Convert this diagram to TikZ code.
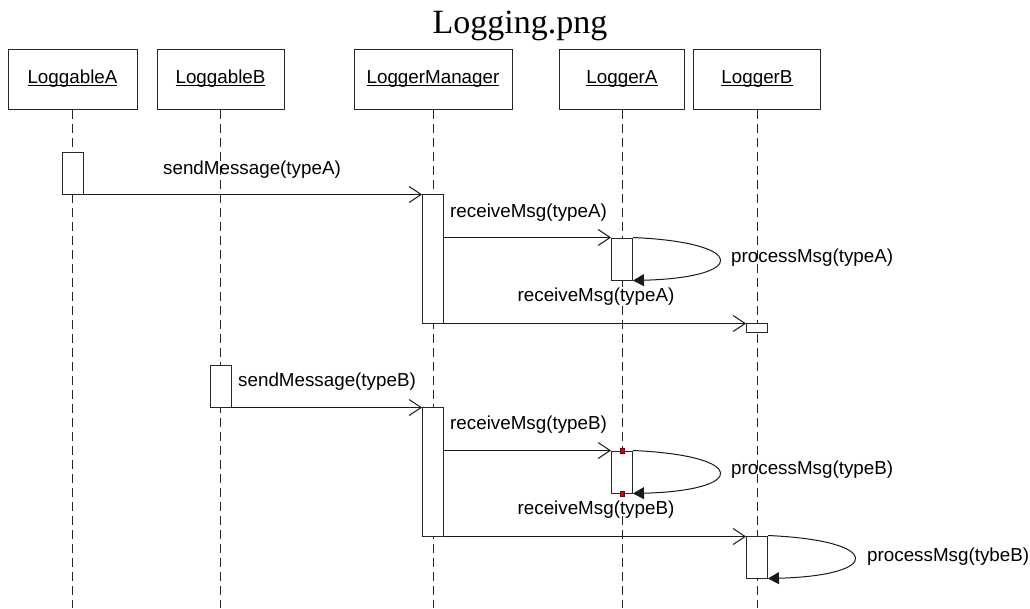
\documentclass[tikz,border=0pt]{standalone}
\usepackage{fontspec}
\setmainfont{Liberation Sans}
\newfontfamily\titlefont{Liberation Serif}
\usetikzlibrary{arrows.meta}
\newcommand*{\UmlName}[1]{% #1 = object name, underlined
\setbox0\hbox{#1}\rlap{\rule[-2.2pt]{\wd0}{1pt}}\box0%
}
\newcommand*{\SelfCall}[2]{% #1 = activation node, #2 = reach
\draw [call, -{Triangle[length=11pt,width=12pt]}]
(#1.north east) .. controls +(#2,5) and +(#2,-3) .. (#1.south east);
}
\tikzset{
  head/.style={draw=black!85, line width=1pt, fill=white, minimum height=60pt, inner sep=0pt},
  life/.style={draw=black!85, line width=1pt, dash pattern=on 9pt off 5pt},
  act/.style={draw=black!85, line width=1pt, fill=white, minimum width=21pt, inner sep=0pt},
  call/.style={draw=black!90, line width=1pt},
  msg/.style={call, -{Straight Barb[length=12pt,width=16pt]}},
  lbl/.style={inner sep=0pt},
  reddot/.style={draw=red!40!black, fill=red!85!black, minimum size=4.5pt, inner sep=0pt}
}

\begin{document}
\begin{tikzpicture}[x=1pt, y=-1pt, font=\fontsize{18.8}{22}\selectfont]
\useasboundingbox (0,0) rectangle (1030,608);

\node [font=\titlefont\fontsize{34}{40}\selectfont, anchor=base] (title) at (520,33) {Logging.png};

% objects and lifelines
\foreach \nd/\x/\w/\lbl in {hLA/72.5/129/LoggableA, hLB/220.5/127/LoggableB,
  hLM/433/158/LoggerManager, hGA/622/125/LoggerA, hGB/757/127/LoggerB} {
  \node [head, minimum width=\w pt] (\nd) at (\x,79) {\UmlName{\lbl}};
  \draw [life] (\nd) -- (\nd |- 0,608);
}

% activations
\foreach \nd/\x/\y/\h in {aA1/72.5/173/42, aM1/433/258.5/129, aGA1/622/259/42,
  aGB1/757/327.5/9, aLB1/220.5/386/42, aM2/433/471.5/129, aGA2/622/472/42,
  aGB2/757/557/42} {
  \node [act, minimum height=\h pt] (\nd) at (\x,\y) {};
}

% calls
\draw [msg] (aA1.south east) -- (aA1.south -| aM1.west);
\draw [msg] (aM1.east |- aGA1.north) -- (aGA1.north west);
\SelfCall{aGA1}{115}
\draw [msg] (aM1.south east) -- (aM1.south -| aGB1.west);

\draw [msg] (aLB1.south east) -- (aLB1.south -| aM2.west);
\draw [msg] (aM2.east |- aGA2.north) -- (aGA2.north west);
\SelfCall{aGA2}{115}
\draw [msg] (aM2.south east) -- (aM2.south -| aGB2.west);
\SelfCall{aGB2}{115}

\node [reddot] (dotTop) at (aGA2.north) {};
\node [reddot] (dotBot) at (aGA2.south) {};

% labels
\node [lbl] (sendA) at (252,170) {sendMessage(typeA)};
\node [lbl, anchor=west] (recvA) at (450,213) {receiveMsg(typeA)};
\node [lbl, anchor=west] (procA) at (731,258) {processMsg(typeA)};
\node [lbl] (recvA2) at (596,297) {receiveMsg(typeA)};
\node [lbl, anchor=west] (sendB) at (238,382) {sendMessage(typeB)};
\node [lbl, anchor=west] (recvB) at (450,425) {receiveMsg(typeB)};
\node [lbl, anchor=west] (procB) at (731,470) {processMsg(typeB)};
\node [lbl] (recvB2) at (596,510) {receiveMsg(typeB)};
\node [lbl, anchor=west] (procGB) at (867,557) {processMsg(tybeB)};

\end{tikzpicture}
\end{document}
